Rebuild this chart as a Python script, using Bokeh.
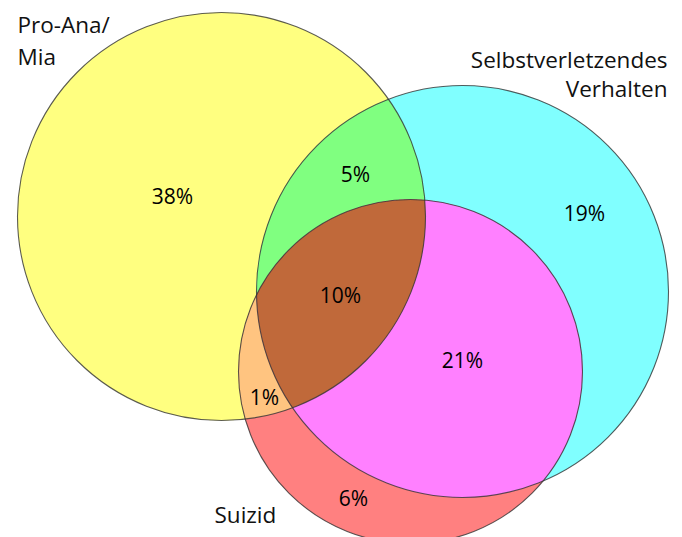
import numpy as np
from bokeh.plotting import figure
from bokeh.models import Range1d, ColumnDataSource
from bokeh.core.properties import value
from bokeh.embed import file_html
from bokeh.resources import INLINE

# ---- data ----
set_names = ["Pro-Ana/Mia", "Selbstverletzendes Verhalten", "Suizid"]
region_keys = ["A", "B", "C", "AB", "BC", "AC", "ABC"]
region_shares = [38, 19, 6, 5, 21, 1, 10]  # percent

# ---- layout (reference pixel coordinates) ----
circle_x = [221, 462, 410]
circle_y = [216, 291, 371]
circle_r = [204, 206, 172]
region_colors = {"A": "#FFFF80", "B": "#80FFFF", "C": "#FF8080",
                 "AB": "#80FF80", "BC": "#FF80FF", "AC": "#FFC480",
                 "ABC": "#C0693A"}
label_x = {"A": 172, "B": 584, "C": 353, "AB": 355, "BC": 462, "AC": 264, "ABC": 340}
label_y = {"A": 195, "B": 212, "C": 497, "AB": 173, "BC": 359, "AC": 396, "ABC": 294}

name_lines = [("Pro-Ana/", 17, 24, "left"), ("Mia", 17, 56, "left"),
              ("Selbstverletzendes", 667, 59, "right"), ("Verhalten", 667, 88, "right"),
              ("Suizid", 214, 514, "left")]

W, H = 682, 537
p = figure(width=W, height=H, x_range=Range1d(0, W), y_range=Range1d(H, 0),
           output_backend="svg", toolbar_location=None, min_border=0,
           x_axis_location=None, y_axis_location=None)
p.grid.visible = False
p.outline_line_color = None
p.background_fill_color = "white"


def intersection_polygon(idx):
    """Boundary of the intersection of the disks in idx (convex)."""
    t = np.linspace(0, 2 * np.pi, 4000, endpoint=False)
    pts = []
    for i in idx:
        px = circle_x[i] + circle_r[i] * np.cos(t)
        py = circle_y[i] + circle_r[i] * np.sin(t)
        keep = np.ones_like(px, dtype=bool)
        for j in idx:
            if j == i:
                continue
            keep &= (px - circle_x[j]) ** 2 + (py - circle_y[j]) ** 2 <= circle_r[j] ** 2 + 1e-6
        pts.append(np.column_stack([px[keep], py[keep]]))
    pts = np.vstack(pts)
    cx, cy = pts[:, 0].mean(), pts[:, 1].mean()
    order = np.argsort(np.arctan2(pts[:, 1] - cy, pts[:, 0] - cx))
    pts = pts[order]
    return list(pts[:, 0]), list(pts[:, 1])


key_to_idx = {"A": [0], "B": [1], "C": [2], "AB": [0, 1], "AC": [0, 2], "BC": [1, 2], "ABC": [0, 1, 2]}
paint_order = ["A", "B", "C", "AB", "AC", "BC", "ABC"]
xs, ys, cols = [], [], []
for k in paint_order:
    x, y = intersection_polygon(key_to_idx[k])
    xs.append(x)
    ys.append(y)
    cols.append(region_colors[k])
p.patches(xs=xs, ys=ys, fill_color=cols, line_color=None)

# outlines
p.circle(x=circle_x, y=circle_y, radius=circle_r, fill_color=None,
         line_color="#333333", line_width=1.1, line_alpha=0.8)

# percentage labels
src = ColumnDataSource(dict(
    x=[label_x[k] for k in region_keys],
    y=[label_y[k] for k in region_keys],
    t=[f"{v}%" for v in region_shares]))
p.text(x="x", y="y", text="t", source=src, text_font=value("Open Sans"),
       text_font_size="21px", text_align="center", text_baseline="alphabetic",
       text_color="black")

# set names
for txt, x, y, al in name_lines:
    p.text(x=[x], y=[y], text=[txt], text_font=value("Open Sans"), text_font_size="22.5px",
           text_align=al, text_baseline="alphabetic", text_color="#111111")

open("out.html", "w").write(file_html(p, INLINE))
